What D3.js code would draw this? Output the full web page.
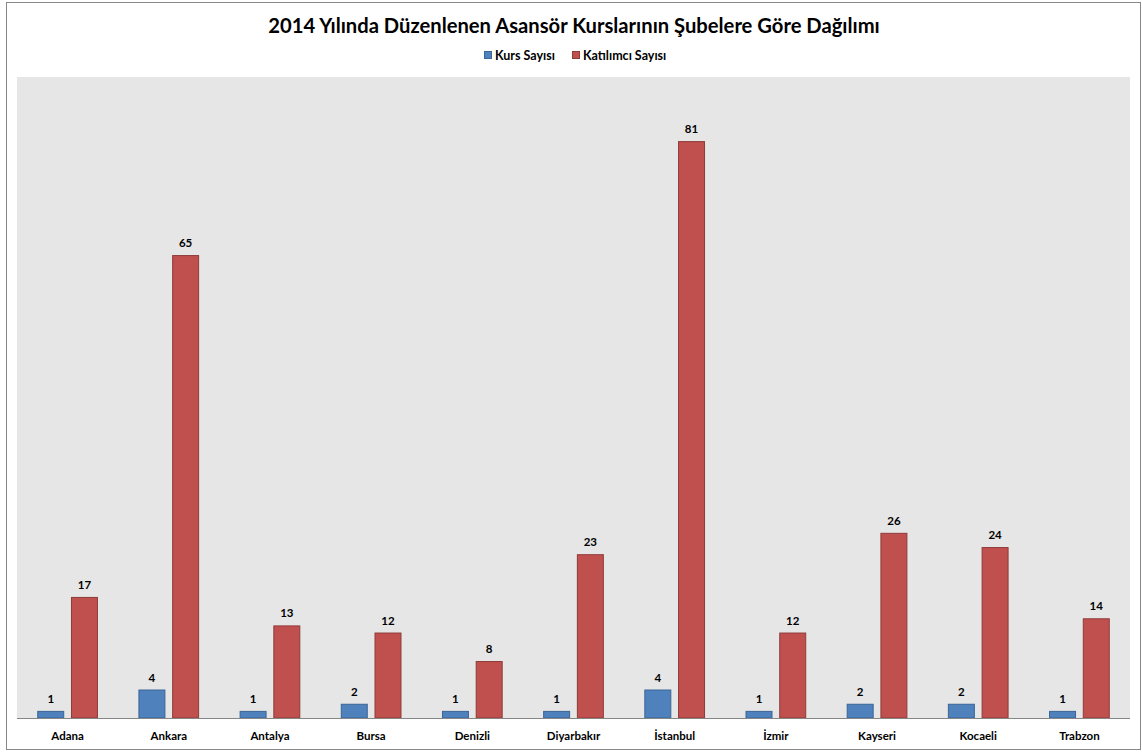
<!DOCTYPE html>
<html><head><meta charset="utf-8">
<script src="https://cdn.jsdelivr.net/npm/d3@7"></script>
<style>body{margin:0;background:#fff}svg{display:block}text{font-family:Lato,"Open Sans",sans-serif;font-weight:bold;fill:#000}</style>
</head><body>
<script>
const categories = ["Adana","Ankara","Antalya","Bursa","Denizli","Diyarbakır","İstanbul","İzmir","Kayseri","Kocaeli","Trabzon"];
const seriesNames = ["Kurs Sayısı","Katılımcı Sayısı"];
const kursSayisi = [1,4,1,2,1,1,4,1,2,2,1];
const katilimciSayisi = [17,65,13,12,8,23,81,12,26,24,14];
const yMax = 90;
const colors = ["#4F81BD","#C0504D"];
const strokes = ["#3A6596","#8E3B39"];

const W = 1142, H = 752;
const svg = d3.select("body").append("svg").attr("width", W).attr("height", H);
svg.append("rect").attr("x",6.5).attr("y",2.5).attr("width",1134).attr("height",747).attr("fill","#fff").attr("stroke","#888").attr("stroke-width",1);

const plot = {l:17, r:1130, t:77, b:718};
svg.append("rect").attr("x",plot.l).attr("y",plot.t).attr("width",plot.r-plot.l).attr("height",plot.b-plot.t).attr("fill","#E6E6E6");

const x0 = d3.scaleBand().domain(categories).range([plot.l, plot.r]).paddingInner(0.4).paddingOuter(0.2);
const x1 = d3.scaleBand().domain(seriesNames).range([0, x0.bandwidth()]).paddingInner(0.2);
const y = d3.scaleLinear().domain([0, yMax]).range([plot.b, plot.t]);

const data = categories.map((c,i)=>({cat:c, vals:[kursSayisi[i], katilimciSayisi[i]]}));

const g = svg.append("g");
const groups = g.selectAll("g.grp").data(data).join("g").attr("class","grp").attr("transform", d=>`translate(${x0(d.cat)},0)`);
groups.selectAll("rect").data(d=>d.vals.map((v,j)=>({v, s:seriesNames[j], j}))).join("rect")
  .attr("x", d=>x1(d.s)+0.5).attr("width", x1.bandwidth()-1)
  .attr("y", d=>y(d.v)+0.5).attr("height", d=>y(0)-y(d.v)-0.5)
  .attr("fill", d=>colors[d.j]).attr("stroke", d=>strokes[d.j]).attr("stroke-width",1);
groups.selectAll("text").data(d=>d.vals.map((v,j)=>({v, s:seriesNames[j], j}))).join("text")
  .attr("x", d=>x1(d.s)+x1.bandwidth()/2).attr("y", d=>y(d.v)-8)
  .attr("text-anchor","middle").attr("font-size",11.5).text(d=>d.v);

// x axis
const xAxis = d3.axisBottom(x0).tickSize(0).tickPadding(14);
const ax = svg.append("g").attr("transform",`translate(0,${plot.b})`).call(xAxis);
ax.select(".domain").attr("stroke","#868686").attr("d",`M${plot.l},0.5H${plot.r}`);
ax.selectAll("text").attr("font-size",11.5).attr("font-family","Lato,'Open Sans',sans-serif").attr("font-weight","bold").attr("fill","#000");

// title
svg.append("text").attr("x",574).attr("y",33).attr("text-anchor","middle").attr("font-size",20.2)
  .text("2014 Yılında Düzenlenen Asansör Kurslarının Şubelere Göre Dağılımı");

// legend
const legX = [484, 572];
const lg = svg.append("g");
seriesNames.forEach((s,i)=>{
  lg.append("rect").attr("x",legX[i]+0.5).attr("y",51.5).attr("width",7).attr("height",7).attr("fill",colors[i]).attr("stroke",strokes[i]);
  lg.append("text").attr("x",legX[i]+11).attr("y",59.5).attr("font-size",12.5).text(s);
});
</script>
</body></html>
